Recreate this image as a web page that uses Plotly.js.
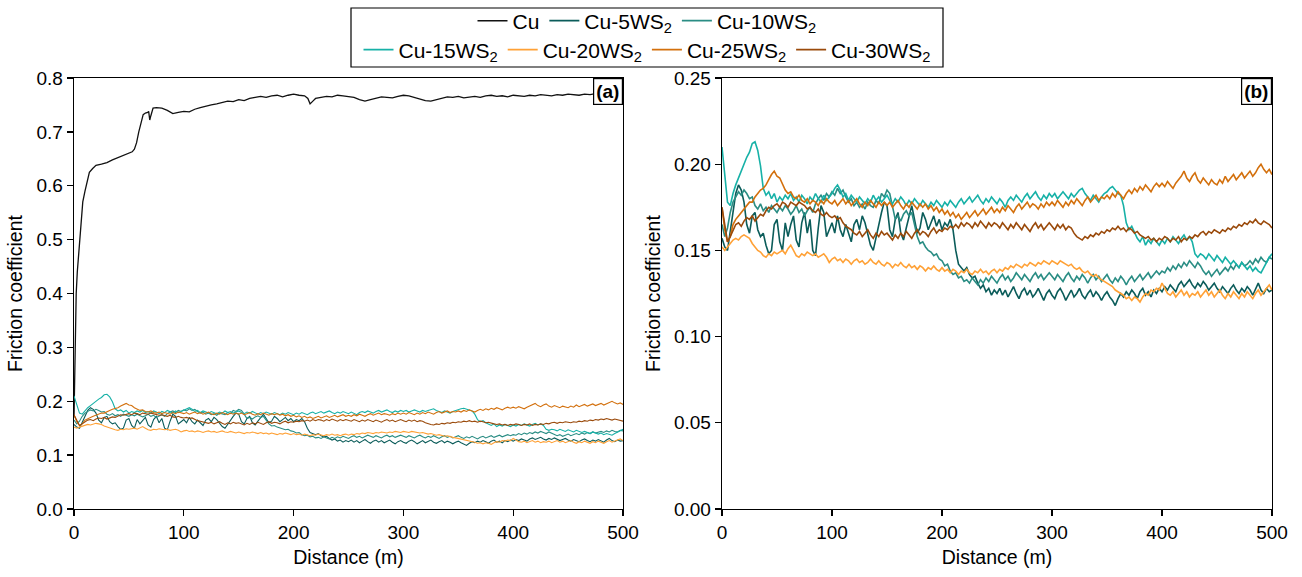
<!DOCTYPE html>
<html>
<head>
<meta charset="utf-8">
<script src="https://cdn.plot.ly/plotly-3.0.1.min.js"></script>
<style>html,body{margin:0;padding:0;background:#fff;}#chart{width:1302px;height:577px;}</style>
</head>
<body>
<div id="chart"></div>
<script>
// ---------- DATA ----------
const seriesNames = ['Cu', 'Cu-5WS<sub>2</sub>', 'Cu-10WS<sub>2</sub>', 'Cu-15WS<sub>2</sub>', 'Cu-20WS<sub>2</sub>', 'Cu-25WS<sub>2</sub>', 'Cu-30WS<sub>2</sub>'];
const xTicks = [0, 100, 200, 300, 400, 500];
const yTicksA = [0, 0.1, 0.2, 0.3, 0.4, 0.5, 0.6, 0.7, 0.8];
const yTicksB = [0, 0.05, 0.10, 0.15, 0.20, 0.25];

// Cu (pure copper) distance / friction pairs
const cuDist = [0,0.5,1,1.5,2,3,4,5,6,7,8,10,12,14,17,20,25,30,35,40,45,50,53,55,57,59,61,63,65,67,68,69,70,72,75,80,85,90,95,100,
105,110,115,120,125,130,135,140,145,150,155,160,165,170,175,180,185,190,195,200,205,210,213,215,218,220,225,230,235,240,245,250,
255,260,265,270,275,280,285,290,295,300,305,310,315,320,325,330,335,340,345,350,355,360,365,370,375,380,385,390,395,400,405,410,
415,420,425,430,435,440,445,450,455,460,465,470,475,480,485,490,495,500];
const cuVal = [.17,.25,.32,.37,.40,.44,.47,.50,.53,.55,.57,.59,.61,.625,.632,.638,.640,.643,.648,.652,.656,.660,.663,.668,.680,.700,.718,.732,.735,.736,.738,.722,.730,.744,.745,.744,.740,.734,.736,.738,
.737,.742,.745,.748,.750,.752,.754,.757,.756,.760,.758,.762,.764,.766,.764,.767,.768,.765,.768,.770,.768,.767,.762,.752,.758,.762,.764,.766,.765,.768,.767,.766,
.764,.760,.757,.760,.762,.765,.764,.763,.766,.768,.767,.764,.760,.758,.757,.760,.763,.765,.764,.766,.763,.765,.766,.764,.767,.768,.766,.767,.765,.768,.767,.766,
.768,.767,.769,.768,.767,.769,.768,.770,.769,.768,.770,.769,.771,.770,.772,.773,.771,.775];

// WS2 composites, sampled every 2.5 m from 0 to 500 m
const sampleStep = 2.5;
const cu5 = [
.157,.152,.150,.160,.172,.183,.188,.185,.178,.165,.160,.170,.172,.162,.158,.160,.153,.148,.150,.165,
.168,.155,.150,.166,.158,.165,.170,.156,.152,.166,.172,.160,.168,.150,.147,.163,.176,.172,.158,.162,
.166,.160,.170,.162,.158,.165,.160,.155,.165,.168,.162,.170,.166,.160,.153,.150,.158,.165,.172,.178,
.176,.162,.158,.168,.172,.160,.156,.163,.170,.176,.168,.160,.163,.172,.168,.162,.166,.170,.164,.168,
.162,.166,.164,.168,.162,.150,.142,.140,.138,.140,.136,.134,.135,.131,.128,.130,.126,.128,.124,.127,
.125,.128,.124,.127,.123,.126,.129,.125,.122,.126,.128,.124,.127,.123,.125,.128,.124,.121,.125,.127,
.124,.122,.126,.128,.125,.121,.124,.127,.123,.125,.128,.124,.122,.125,.127,.123,.126,.124,.121,.124,
.126,.123,.121,.118,.122,.125,.123,.126,.124,.127,.125,.122,.126,.128,.124,.126,.123,.127,.125,.128,
.126,.129,.127,.130,.128,.126,.130,.132,.129,.131,.133,.130,.128,.131,.129,.132,.130,.127,.129,.131,
.128,.126,.129,.127,.125,.128,.130,.127,.125,.128,.126,.129,.127,.124,.128,.131,.127,.125,.128,.126,
.127];
const cu10 = [
.165,.158,.163,.172,.178,.181,.184,.182,.185,.183,.180,.181,.176,.174,.177,.173,.175,.172,.176,.174,
.172,.175,.173,.176,.174,.171,.173,.176,.172,.174,.170,.173,.175,.172,.177,.180,.182,.179,.183,.181,
.184,.182,.186,.183,.185,.181,.178,.180,.176,.178,.175,.177,.174,.178,.176,.175,.179,.177,.183,.181,
.185,.183,.176,.168,.170,.167,.171,.173,.170,.172,.165,.158,.154,.155,.152,.150,.149,.147,.148,.145,
.144,.141,.142,.138,.136,.137,.134,.135,.132,.133,.131,.134,.132,.130,.133,.131,.134,.132,.135,.133,
.131,.134,.136,.133,.135,.132,.134,.137,.135,.133,.136,.134,.132,.135,.137,.134,.136,.133,.135,.137,
.135,.133,.136,.134,.132,.135,.137,.134,.132,.135,.133,.136,.134,.131,.134,.136,.133,.135,.132,.134,
.136,.133,.131,.134,.132,.135,.133,.130,.133,.135,.132,.134,.136,.133,.135,.137,.134,.136,.138,.136,
.138,.137,.140,.138,.141,.139,.142,.140,.143,.141,.144,.142,.140,.143,.141,.138,.136,.138,.135,.137,
.139,.136,.138,.140,.138,.141,.139,.142,.140,.143,.141,.142,.144,.142,.145,.143,.146,.144,.143,.146,
.145];
const cu15 = [
.210,.195,.178,.176,.183,.188,.192,.196,.201,.204,.207,.212,.213,.208,.199,.186,.182,.184,.180,.183,
.178,.181,.179,.182,.180,.183,.179,.181,.178,.182,.180,.177,.181,.179,.183,.180,.178,.182,.179,.181,
.183,.186,.188,.185,.181,.183,.179,.182,.180,.178,.181,.179,.177,.180,.178,.182,.179,.181,.178,.180,
.182,.179,.177,.180,.178,.181,.179,.176,.179,.177,.180,.178,.176,.179,.177,.175,.178,.176,.179,.177,
.175,.178,.176,.179,.177,.175,.178,.180,.177,.179,.181,.178,.180,.182,.179,.177,.180,.178,.181,.179,
.177,.180,.178,.175,.179,.181,.179,.182,.180,.178,.181,.183,.180,.182,.184,.181,.179,.182,.180,.183,
.181,.183,.180,.182,.184,.182,.180,.183,.181,.183,.185,.186,.183,.181,.179,.182,.180,.178,.181,.183,
.184,.186,.187,.185,.183,.182,.176,.166,.162,.164,.160,.157,.155,.158,.153,.156,.154,.157,.155,.153,
.156,.154,.157,.155,.158,.156,.154,.157,.159,.156,.158,.155,.148,.146,.148,.147,.145,.148,.146,.144,
.147,.145,.143,.146,.144,.142,.144,.142,.140,.143,.141,.139,.141,.138,.140,.138,.137,.140,.143,.146,
.148];
const cu20 = [
.152,.150,.152,.154,.156,.157,.156,.158,.159,.158,.157,.154,.152,.150,.149,.147,.146,.148,.147,.149,
.148,.149,.150,.148,.151,.153,.150,.147,.146,.148,.147,.149,.148,.147,.148,.146,.147,.148,.146,.143,
.145,.146,.144,.145,.143,.145,.144,.142,.144,.145,.143,.144,.142,.143,.145,.143,.142,.144,.142,.141,
.143,.142,.140,.142,.141,.143,.141,.140,.142,.140,.141,.139,.141,.140,.138,.140,.139,.141,.139,.138,
.140,.138,.139,.137,.139,.138,.136,.138,.137,.139,.137,.136,.138,.137,.139,.137,.138,.136,.138,.139,
.137,.139,.138,.140,.139,.141,.140,.142,.141,.140,.142,.141,.143,.142,.141,.143,.142,.144,.143,.142,
.144,.143,.142,.144,.143,.142,.141,.142,.140,.139,.140,.138,.137,.138,.136,.135,.136,.134,.133,.132,
.131,.130,.129,.127,.126,.125,.124,.122,.123,.121,.123,.122,.120,.123,.125,.124,.127,.126,.128,.127,
.131,.128,.125,.124,.126,.123,.125,.127,.124,.126,.123,.125,.124,.126,.123,.125,.127,.124,.126,.123,
.125,.127,.124,.122,.125,.123,.126,.124,.122,.125,.123,.126,.124,.122,.125,.127,.124,.126,.128,.130,
.127];
const cu25 = [
.175,.162,.155,.158,.165,.168,.170,.172,.174,.176,.178,.178,.181,.183,.185,.186,.188,.191,.194,.196,
.193,.192,.188,.185,.183,.184,.181,.180,.182,.179,.178,.180,.177,.179,.178,.176,.179,.177,.180,.178,
.177,.179,.176,.178,.180,.177,.179,.176,.178,.180,.177,.175,.178,.176,.179,.177,.175,.178,.176,.178,
.176,.178,.175,.177,.179,.176,.174,.177,.175,.178,.176,.174,.177,.175,.177,.174,.176,.173,.175,.172,
.174,.171,.173,.170,.172,.169,.171,.168,.170,.172,.169,.171,.173,.170,.172,.174,.171,.173,.175,.172,
.174,.172,.175,.173,.176,.174,.172,.175,.177,.174,.176,.178,.175,.177,.176,.174,.177,.175,.178,.176,
.178,.176,.179,.177,.175,.178,.176,.179,.177,.180,.178,.176,.179,.181,.178,.180,.182,.179,.181,.180,
.182,.180,.183,.181,.184,.182,.180,.183,.185,.183,.186,.184,.187,.185,.188,.186,.184,.187,.189,.187,
.189,.187,.190,.188,.186,.189,.191,.193,.196,.192,.190,.193,.195,.191,.189,.192,.190,.188,.191,.189,
.188,.191,.189,.193,.190,.192,.194,.191,.193,.195,.192,.194,.196,.193,.195,.198,.200,.197,.195,.197,
.194];
const cu30 = [
.175,.165,.155,.158,.162,.165,.166,.164,.167,.169,.168,.170,.167,.169,.171,.170,.173,.175,.174,.176,
.177,.175,.178,.177,.175,.178,.177,.176,.178,.177,.176,.174,.175,.173,.172,.174,.171,.170,.172,.170,
.169,.170,.168,.169,.166,.164,.163,.162,.160,.159,.161,.158,.160,.162,.159,.157,.160,.158,.161,.159,
.160,.158,.156,.159,.157,.160,.158,.161,.159,.157,.160,.162,.159,.161,.160,.158,.161,.163,.160,.162,
.161,.163,.162,.164,.163,.165,.163,.166,.164,.166,.165,.163,.166,.164,.167,.165,.163,.166,.164,.166,
.165,.163,.166,.164,.162,.165,.163,.166,.164,.162,.165,.163,.161,.164,.166,.163,.165,.162,.164,.166,
.164,.162,.165,.163,.165,.162,.164,.163,.160,.158,.157,.156,.158,.157,.159,.158,.160,.159,.161,.160,
.162,.161,.163,.162,.164,.162,.163,.161,.163,.162,.160,.161,.159,.158,.157,.158,.156,.157,.155,.157,
.156,.158,.157,.155,.157,.156,.158,.155,.157,.156,.158,.157,.159,.158,.160,.161,.159,.161,.160,.162,
.161,.160,.162,.161,.163,.162,.164,.163,.165,.164,.166,.165,.167,.166,.168,.166,.165,.167,.166,.165,
.163];

// ---------- STYLE ----------
const colors = ['#111111', '#0b5c5a', '#2a8d84', '#17b1a7', '#ffa136', '#d3700d', '#9a4a0b'];
const FONT = 'Liberation Sans, Arial, Helvetica, sans-serif';
const W = 1302, H = 577;

const distance = cu5.map((_, i) => i * sampleStep);
const composites = [cu5, cu10, cu15, cu20, cu25, cu30];

const traces = [];
// Panel (a)
traces.push({x: cuDist, y: cuVal, type: 'scatter', mode: 'lines', xaxis: 'x', yaxis: 'y',
  line: {color: colors[0], width: 1.3}, showlegend: false, hoverinfo: 'skip'});
composites.forEach((s, k) => traces.push({x: distance, y: s, type: 'scatter', mode: 'lines', xaxis: 'x', yaxis: 'y',
  line: {color: colors[k + 1], width: 1.1}, showlegend: false, hoverinfo: 'skip'}));
// Panel (b) + legend entries
traces.push({x: [null], y: [null], type: 'scatter', mode: 'lines', xaxis: 'x2', yaxis: 'y2', name: seriesNames[0],
  line: {color: colors[0], width: 1.5}, legend: 'legend'});
composites.forEach((s, k) => traces.push({x: distance, y: s, type: 'scatter', mode: 'lines', xaxis: 'x2', yaxis: 'y2',
  name: seriesNames[k + 1], line: {color: colors[k + 1], width: 1.6}, legend: k < 2 ? 'legend' : 'legend2'}));

const axisCommon = {
  showline: true, linecolor: '#000', linewidth: 1.3, mirror: true,
  ticks: 'outside', ticklen: 6, tickwidth: 1.3, tickcolor: '#000',
  showgrid: false, zeroline: false,
  tickfont: {family: FONT, size: 19, color: '#000'}
};
const xDomA = [74 / W, 623 / W], xDomB = [722 / W, 1272 / W];
const yDom = [1 - 509 / H, 1 - 78 / H];

const xTitle = {text: 'Distance (m)', font: {family: FONT, size: 19.5, color: '#000'}, standoff: 8};
const yTitle = {text: 'Friction coefficient', font: {family: FONT, size: 19.5, color: '#000'}, standoff: 8};

const layout = {
  width: W, height: H,
  margin: {l: 0, r: 0, t: 0, b: 0},
  paper_bgcolor: '#fff', plot_bgcolor: '#fff',
  font: {family: FONT, size: 19, color: '#000'},
  xaxis: Object.assign({}, axisCommon, {domain: xDomA, range: [0, 500], tickvals: xTicks, anchor: 'y', title: xTitle}),
  yaxis: Object.assign({}, axisCommon, {domain: yDom, range: [0, 0.8], tickvals: yTicksA, tickformat: '.1f', anchor: 'x', title: yTitle}),
  xaxis2: Object.assign({}, axisCommon, {domain: xDomB, range: [0, 500], tickvals: xTicks, anchor: 'y2', title: xTitle}),
  yaxis2: Object.assign({}, axisCommon, {domain: yDom, range: [0, 0.25], tickvals: yTicksB, tickformat: '.2f', anchor: 'x2', title: yTitle}),
  legend: {orientation: 'h', x: 647 / W, xanchor: 'center', y: 1 - 21 / H, yanchor: 'middle',
    font: {family: FONT, size: 21, color: '#000'}, bgcolor: 'rgba(0,0,0,0)', borderwidth: 0},
  legend2: {orientation: 'h', x: 647 / W, xanchor: 'center', y: 1 - 50 / H, yanchor: 'middle',
    font: {family: FONT, size: 21, color: '#000'}, bgcolor: 'rgba(0,0,0,0)', borderwidth: 0},
  shapes: [{type: 'rect', xref: 'paper', yref: 'paper', x0: 351 / W, x1: 943 / W, y0: 1 - 67 / H, y1: 1 - 8 / H,
    line: {color: '#000', width: 1.2}, fillcolor: 'rgba(0,0,0,0)'}],
  annotations: [
    {text: '<b>(a)</b>', xref: 'paper', yref: 'paper', x: 623 / W, y: 1 - 78 / H, xanchor: 'right', yanchor: 'top',
      showarrow: false, font: {family: FONT, size: 19, color: '#000'}, bordercolor: '#000', borderwidth: 1.2, borderpad: 2, bgcolor: '#fff'},
    {text: '<b>(b)</b>', xref: 'paper', yref: 'paper', x: 1272 / W, y: 1 - 78 / H, xanchor: 'right', yanchor: 'top',
      showarrow: false, font: {family: FONT, size: 19, color: '#000'}, bordercolor: '#000', borderwidth: 1.2, borderpad: 2, bgcolor: '#fff'}
  ]
};

Plotly.newPlot('chart', traces, layout, {displayModeBar: false, staticPlot: true});
</script>
</body>
</html>
